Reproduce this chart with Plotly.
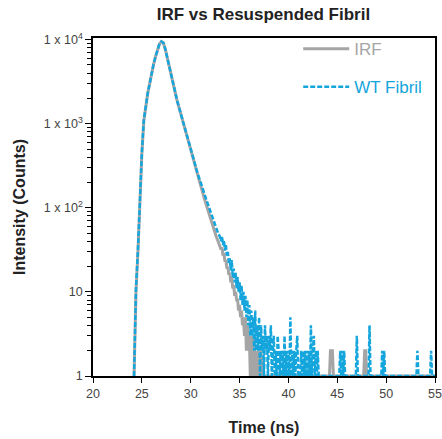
import numpy as np
import plotly.graph_objects as go

# Channel grids (ns): the rise/peak part is read every 0.2 ns, the noisy tail every 0.1 ns
HEAD_START, HEAD_STEP = 24.0, 0.2
TAIL_START, TAIL_STEP = 33.1, 0.1

# WT Fibril counts, 24.0 ... 33.0 ns (None = no counts)
wt_head = [
    None, 1, 11, 32, 125, 450, 1100, 1650, 2300, 3000, 4000, 5100, 6300, 7600, 8900, 9500,
    9200, 7700, 6000, 4800, 3800, 3000, 2400, 1900, 1580, 1320, 1100, 930, 770, 630,
    510, 420, 345, 280, 235, 200, 172, 148, 125, 107, 90, 76, 66, 58, 50, 45,
]
# WT Fibril counts, 33.1 ... 55.0 ns
wt_tail = [
    40, 46, 36, 41, 31, 36, 27, 30, 22, 25,
    18, 24, 15, 19, 13, 17, 11, 15, 10, 13,
    8, 12, 7, 10, 6, 9, 5, 8, 4, 7,
    3, 6, 3, 5, 2, 6, 2, 4, 2, 5,
    1, 4, 2, 3, 1, 4, 2, 3, 1, 3,
    2, 4, 1, 2, 3, 1, 2, 1, 3, 2,
    1, 2, 1, 2, 1, 3, 1, 2, 1, 2,
    1, 5, 1, 2, 1, 2, 1, 2, 3, 1,
    1, 1, 2, 1, 2, 1, 2, 1, 2, 1,
    2, 1, 4, 1, 2, 3, 1, 2, 1, 2,
    1, 1, 1, 1, 1, 1, 1, 1, 1, 1,
    1, 1, 1, 1, 1, 1, 1, 1, 1, 1,
    1, 1, 2, 1, 2, 1, 2, 1, 1, 1,
    1, 1, 1, 1, 1, 1, 1, 1, 1, 3,
    1, 1, 1, 1, 1, 1, 1, 1, 1, 1,
    1, 1, 4, 1, 1, 1, 1, 1, 1, 1,
    1, 1, 1, 1, 1, 2, 1, 2, 1, 1,
    1, 1, 1, 1, 1, 1, 1, 1, 1, 1,
    1, 1, 1, 1, 1, 1, 1, 1, 1, 1,
    1, 1, 1, 1, 1, 1, 1, 1, 1, 1,
    1, 2, 1, 1, 1, 1, 1, 1, 1, 1,
    1, 1, 1, 1, 1, 2, 1, 1, 1, 1,
]

# IRF counts, 24.0 ... 33.0 ns (None = no counts)
irf_head = [
    None, 1, 10, 30, 120, 440, 1080, 1650, 2300, 3000, 4000, 5100, 6300, 7600, 8900, 9500,
    9200, 7700, 6000, 4800, 3800, 3000, 2400, 1900, 1560, 1300, 1080, 900, 740, 600,
    480, 390, 320, 260, 215, 180, 152, 128, 108, 90, 76, 64, 54, 46, 40, 34,
]
# IRF counts, 33.1 ... 55.0 ns
irf_tail = [
    32, 34, 27, 29, 23, 24, 19, 20, 16, 17,
    13, 15, 11, 12, 9, 10, 8, 8, 6, 7,
    5, 6, 4, 5, 3, 5, 2, 4, 2, 3,
    1, 3, 2, 1, 3, 1, 2, 1, 2, 1,
    1, 2, 1, 1, 1, 1, 1, 1, 1, 1,
    1, 1, 1, 1, 1, 1, 1, 1, 1, 1,
    1, 1, 1, 1, 1, 1, 1, 1, 1, 1,
    1, 1, 1, 1, 1, 1, 1, 1, 1, 1,
    1, 1, 1, 1, 1, 1, 1, 1, 1, 1,
    1, 1, 1, 1, 1, 1, 1, 1, 1, 1,
    1, 1, 1, 1, 1, 1, 1, 1, 1, 1,
    1, 1, 2, 2, 2, 1, 1, 1, 1, 1,
    1, 1, 1, 1, 1, 1, 1, 1, 1, 1,
    1, 1, 1, 1, 1, 1, 1, 1, 1, 1,
    1, 1, 1, 1, 1, 1, 1, 2, 2, 1,
    1, 1, 1, 1, 1, 1, 1, 1, 1, 1,
    1, 1, 1, 1, 1, 1, 1, 1, 1, 1,
    1, 1, 1, 1, 1, 1, 1, 1, 1, 1,
    1, 1, 1, 1, 1, 1, 1, 1, 1, 1,
    1, 1, 1, 1, 1, 1, 1, 1, 1, 1,
    1, 1, 1, 1, 1, 1, 1, 1, 1, 1,
    1, 1, 1, 1, 1, 1, 1, 1, 1, 1,
]

x_ticks = [20, 25, 30, 35, 40, 45, 50, 55]
y_tickvals = [1, 10, 100, 1000, 10000]
y_ticktext = ["1", "10", "1 x 10<sup>2</sup>", "1 x 10<sup>3</sup>", "1 x 10<sup>4</sup>"]
y_minor = [m * 10 ** k for k in range(4) for m in range(2, 10)]


def channel_times(head, tail):
    th = HEAD_START + HEAD_STEP * np.arange(len(head))
    tt = TAIL_START + TAIL_STEP * np.arange(len(tail))
    return np.round(np.concatenate([th, tt]), 2)


time_wt = channel_times(wt_head, wt_tail)
time_irf = channel_times(irf_head, irf_tail)

GREY = "rgb(165,165,165)"
BLUE = "rgb(20,165,220)"
FONT = "Liberation Sans, Arial, sans-serif"

fig = go.Figure()
fig.add_trace(go.Scatter(
    x=time_irf, y=irf_head + irf_tail, mode="lines",
    name=f"<span style='color:{GREY}'>IRF</span>",
    line=dict(color=GREY, width=3), legend="legend", showlegend=True,
))
fig.add_trace(go.Scatter(
    x=time_wt, y=wt_head + wt_tail, mode="lines",
    name=f"<span style='color:{BLUE}'>WT Fibril</span>",
    line=dict(color=BLUE, width=2.5, dash="5px,2px"), legend="legend2", showlegend=True,
))

fig.update_layout(
    width=442, height=439,
    margin=dict(l=93, r=7, t=38, b=63, autoexpand=False),
    showlegend=True,
    paper_bgcolor="white", plot_bgcolor="white",
    font=dict(family=FONT, color="#333", size=12),
    title=dict(text="<b>IRF vs Resuspended Fibril</b>", x=0.596, xanchor="center",
               y=0.968, yanchor="middle", font=dict(size=17, color="#222")),
    legend=dict(x=0.60, y=1.02, xanchor="left", yanchor="top", visible=True,
                font=dict(size=17), bgcolor="rgba(0,0,0,0)", itemwidth=46),
    legend2=dict(x=0.60, y=0.908, xanchor="left", yanchor="top", visible=True,
                 font=dict(size=17), bgcolor="rgba(0,0,0,0)", itemwidth=46),
)
fig.update_xaxes(
    range=[20, 55], tickvals=x_ticks, ticks="outside", ticklen=5, tickwidth=1.2,
    tickcolor="black", showline=True, linecolor="black", linewidth=1.5, mirror=True,
    showgrid=False, zeroline=False, tickfont=dict(size=12.5, color="#444"),
    automargin=False,
    title=dict(text="<b>Time (ns)</b>", font=dict(size=16, color="#222"), standoff=22),
)
fig.update_yaxes(
    type="log", range=[0, 4.02], tickvals=y_tickvals, ticktext=y_ticktext,
    ticks="outside", ticklen=6, tickwidth=1.2, tickcolor="black",
    minor=dict(tickmode="array", tickvals=y_minor, ticks="outside", ticklen=4,
               tickwidth=1, tickcolor="black", showgrid=False),
    showline=True, linecolor="black", linewidth=1.5, mirror=True,
    showgrid=False, zeroline=False, tickfont=dict(size=12.5, color="#444"),
    automargin=False,
    title=dict(text="<b>Intensity (Counts)</b>", font=dict(size=16, color="#222"), standoff=14),
)

fig.write_html("out.html")
